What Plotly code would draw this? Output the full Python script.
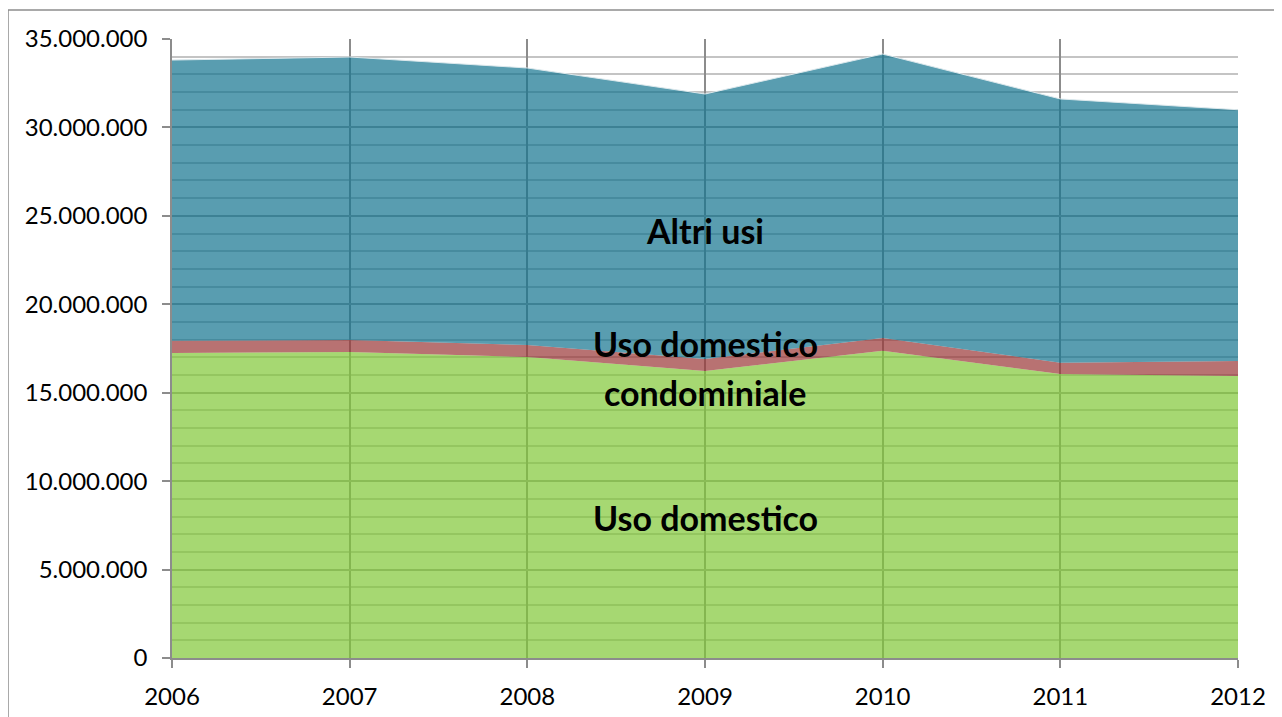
import plotly.graph_objects as go

years = [2006, 2007, 2008, 2009, 2010, 2011, 2012]
year_labels = ["2006", "2007", "2008", "2009", "2010", "2011", "2012"]
uso_domestico = [17250000, 17300000, 17020000, 16230000, 17370000, 16060000, 15940000]
uso_condominiale = [690000, 680000, 680000, 680000, 720000, 640000, 850000]
altri_usi = [15870000, 16000000, 15660000, 14980000, 16060000, 14910000, 14210000]

series_names = ["Uso domestico", "Uso domestico condominiale", "Altri usi"]
series_values = [uso_domestico, uso_condominiale, altri_usi]
fill_colors = ["rgba(128,199,54,0.7)", "rgba(154,54,54,0.7)", "rgba(19,116,142,0.7)"]
edge_colors = ["rgba(0,0,0,0)", "rgba(0,0,0,0)", "rgba(220,232,236,1)"]
edge_widths = [0, 0, 1]

fig = go.Figure()
for name, vals, col, ec, ew in zip(series_names, series_values, fill_colors, edge_colors, edge_widths):
    fig.add_trace(go.Scatter(
        x=years, y=vals, name=name, mode="lines", stackgroup="one",
        line=dict(width=ew, color=ec), fillcolor=col, hoverinfo="x+y+name",
    ))

FONT = "Lato, Roboto, 'Open Sans', sans-serif"

fig.update_layout(
    width=1282, height=717,
    margin=dict(l=164, r=52, t=31, b=67),
    paper_bgcolor="white", plot_bgcolor="white",
    showlegend=False,
    separators=",.",
    font=dict(family=FONT, size=24, color="black"),
    xaxis=dict(
        type="linear", range=[2006, 2012],
        tickvals=years, ticktext=year_labels,
        showgrid=True, gridcolor="#8c8c8c", gridwidth=2,
        showline=True, linecolor="#8c8c8c", linewidth=1.5,
        ticks="outside", ticklen=8, tickcolor="#8c8c8c", tickwidth=1.5,
        ticklabelstandoff=8,
        zeroline=False, mirror=False,
        tickfont=dict(family=FONT, size=24, color="black"),
    ),
    yaxis=dict(
        range=[0, 35000000], dtick=5000000, tick0=0,
        tickformat=",d",
        showgrid=True, gridcolor="#a0a0a0", gridwidth=2,
        minor=dict(dtick=1000000, showgrid=True, gridcolor="#c4c4c4", gridwidth=1.5),
        showline=True, linecolor="#8c8c8c", linewidth=1.5,
        ticks="outside", ticklen=8, tickcolor="#8c8c8c", tickwidth=1.5,
        ticklabelstandoff=10,
        zeroline=False,
        tickfont=dict(family=FONT, size=24, color="black"),
    ),
    shapes=[
        dict(type="line", xref="paper", yref="paper", x0=-164/1066, x1=1.2, y0=648/619, y1=648/619,
             line=dict(color="#8c8c8c", width=1.5)),
        dict(type="line", xref="paper", yref="paper", x0=-164/1066, x1=-164/1066, y0=648/619, y1=-0.2,
             line=dict(color="#8c8c8c", width=1.5)),
    ],
    annotations=[
        dict(x=2009, y=24200000, text="<b>Altri usi</b>", showarrow=False, yanchor="middle",
             font=dict(family=FONT, size=34, color="black")),
        dict(x=2009, y=17810000, text="<b>Uso domestico</b>", showarrow=False, yanchor="middle",
             font=dict(family=FONT, size=34, color="black")),
        dict(x=2009, y=15040000, text="<b>condominiale</b>", showarrow=False, yanchor="middle",
             font=dict(family=FONT, size=34, color="black")),
        dict(x=2009, y=7970000, text="<b>Uso domestico</b>", showarrow=False, yanchor="middle",
             font=dict(family=FONT, size=34, color="black")),
    ],
)

fig.write_html("out.html")
